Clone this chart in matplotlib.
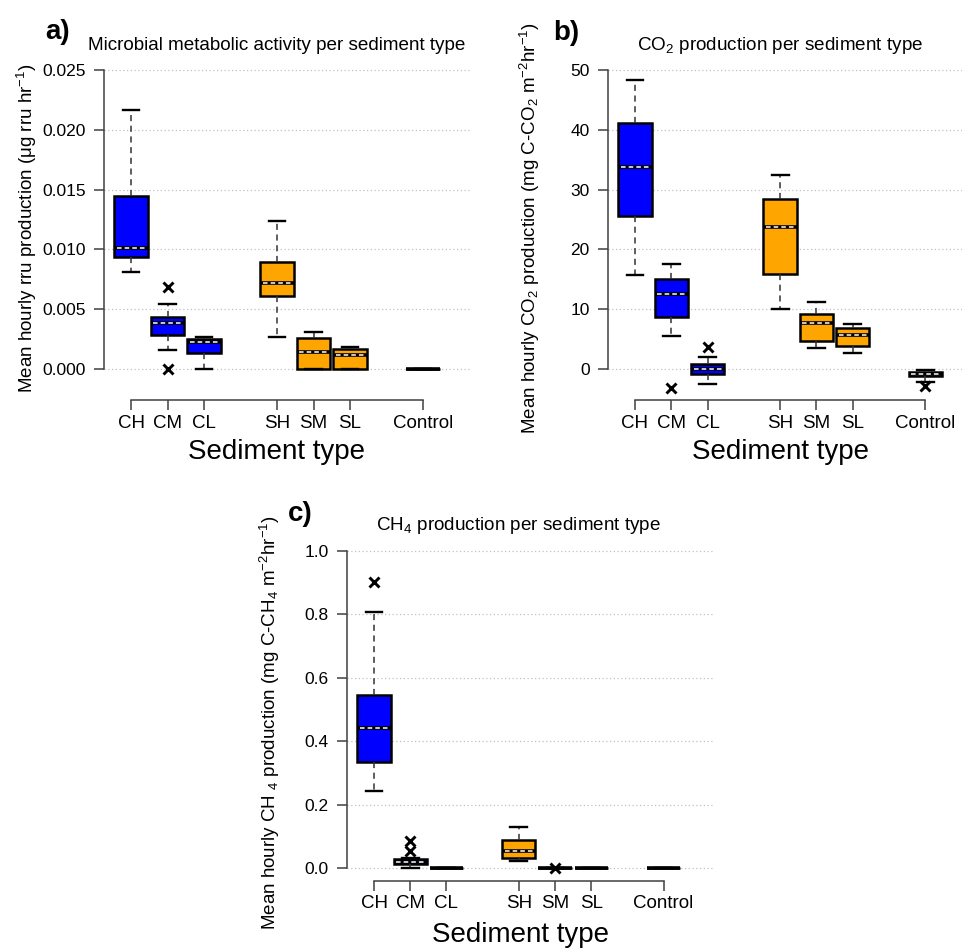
import matplotlib
matplotlib.use('Agg')
import matplotlib.pyplot as plt
import numpy as np

plt.rcParams['font.family'] = ['Liberation Sans', 'DejaVu Sans']
plt.rcParams['mathtext.fontset'] = 'custom'
plt.rcParams['mathtext.rm'] = 'Liberation Sans'
plt.rcParams['mathtext.it'] = 'Liberation Sans:italic'
plt.rcParams['mathtext.bf'] = 'Liberation Sans:bold'

# ---------------- data ----------------
categories = ['CH', 'CM', 'CL', 'SH', 'SM', 'SL', 'Control']
box_colors = ['#0000FF', '#0000FF', '#0000FF', '#FFA500', '#FFA500', '#FFA500', '#FFFFFF']
positions = [1, 2, 3, 5, 6, 7, 9]

# a) microbial metabolic activity
a_whislo = [0.0081, 0.0016, 0.0000, 0.0027, 0.0000, 0.0000, 0.0]
a_q1 = [0.00935, 0.00284, 0.00134, 0.00613, 0.00003, 0.00003, 0.0]
a_med = [0.0101, 0.00382, 0.00223, 0.00719, 0.00139, 0.00114, 0.0]
a_q3 = [0.01443, 0.00432, 0.00248, 0.00897, 0.00262, 0.00167, 0.0]
a_whishi = [0.02163, 0.00543, 0.00265, 0.01237, 0.00312, 0.00181, 0.0]
a_fliers = [[], [0.00688, 0.00003], [], [], [], [], []]
a_yticks = [0.0, 0.005, 0.010, 0.015, 0.020, 0.025]

# b) CO2 production
b_whislo = [15.8, 5.6, -2.5, 10.0, 3.5, 2.6, -2.1]
b_q1 = [25.6, 8.7, -0.9, 15.9, 4.7, 3.85, -1.17]
b_med = [33.7, 12.5, 0.06, 23.8, 7.64, 5.64, -0.89]
b_q3 = [41.2, 15.0, 0.78, 28.4, 9.2, 6.9, -0.5]
b_whishi = [48.3, 17.6, 2.06, 32.4, 11.25, 7.58, -0.22]
b_fliers = [[], [-3.1], [3.73], [], [], [], [-2.84]]
b_yticks = [0, 10, 20, 30, 40, 50]

# c) CH4 production
c_whislo = [0.243, 0.0, 0.0, 0.023, 0.0, 0.0, 0.0]
c_q1 = [0.334, 0.014, 0.0, 0.034, 0.0, 0.0, 0.0]
c_med = [0.442, 0.021, 0.0, 0.055, 0.0, 0.0, 0.0]
c_q3 = [0.546, 0.028, 0.0, 0.088, 0.0, 0.0, 0.0]
c_whishi = [0.808, 0.031, 0.0, 0.131, 0.0, 0.0, 0.0]
c_fliers = [[0.902], [0.086, 0.055], [], [], [0.002], [], []]
c_yticks = [0.0, 0.2, 0.4, 0.6, 0.8, 1.0]

# ---------------- figure ----------------
W, H = 963, 949
fig = plt.figure(figsize=(W / 100, H / 100), dpi=100)


def px_axes(x0, y0, x1, y1):
    return fig.add_axes([x0 / W, 1 - y1 / H, (x1 - x0) / W, (y1 - y0) / H])


def ftext(x, y, s, **kw):
    fig.text(x / W, 1 - y / H, s, **kw)


BOXW = 0.92
AXC = '#404040'


def panel(ax, whislo, q1, med, q3, whishi, fliers, yticks, fmt, xlim, ylim):
    stats = []
    for i in range(len(categories)):
        stats.append(dict(whislo=whislo[i], q1=q1[i], med=med[i], q3=q3[i],
                          whishi=whishi[i], fliers=fliers[i], label=categories[i]))
    ax.yaxis.grid(True, linestyle=(0, (1, 2)), color='#c0c0c0', linewidth=0.9)
    ax.set_axisbelow(True)
    bp = ax.bxp(stats, positions=positions, widths=BOXW, capwidths=BOXW * 0.5,
                patch_artist=True,
                boxprops=dict(linewidth=1.8, edgecolor='black'),
                whiskerprops=dict(linestyle=(0, (4, 3)), linewidth=1.1, color='#333333'),
                capprops=dict(linewidth=1.7, color='black'),
                medianprops=dict(color='black', linewidth=2.6),
                flierprops=dict(marker='x', markersize=6.5, markeredgecolor='black',
                                markeredgewidth=2.1, linestyle='none'))
    for patch, col in zip(bp['boxes'], box_colors):
        patch.set_facecolor(col)
    pos = np.array(positions, dtype=float)
    med_a = np.array(med, dtype=float)
    open_box = (np.array(q3, dtype=float) - np.array(q1, dtype=float)) > 0
    ax.hlines(med_a[open_box], pos[open_box] - BOXW * 0.42, pos[open_box] + BOXW * 0.42,
              colors='white', linestyles=(0, (3, 2)), linewidth=1.1, zorder=5)
    ax.set_xlim(*xlim)
    ax.set_ylim(*ylim)
    ax.set_xticks(positions)
    ax.set_xticklabels(categories, fontsize=13.5)
    ax.set_yticks(yticks)
    ax.set_yticklabels([fmt.format(v) for v in yticks], fontsize=12.5)
    for s in ['top', 'right']:
        ax.spines[s].set_visible(False)
    ax.spines['left'].set_bounds(yticks[0], yticks[-1])
    ax.spines['bottom'].set_bounds(positions[0], positions[-1])
    for s in ['left', 'bottom']:
        ax.spines[s].set_color(AXC)
        ax.spines[s].set_linewidth(1.1)
    ax.tick_params(axis='y', direction='out', length=7, width=1.1, color=AXC, pad=6)
    ax.tick_params(axis='x', direction='out', length=7.5, width=1.1, color=AXC, pad=3)


# panel a
axa = px_axes(104, 58, 472, 400)
panel(axa, a_whislo, a_q1, a_med, a_q3, a_whishi, a_fliers, a_yticks, '{:.3f}',
      (0.26, 10.34), (-0.002592, 0.026003))
# panel b
axb = px_axes(607.7, 58, 962, 400)
panel(axb, b_whislo, b_q1, b_med, b_q3, b_whishi, b_fliers, b_yticks, '{:.0f}',
      (0.248, 10.01), (-5.18, 52.0))
# panel c
axc = px_axes(347, 540, 715, 880.7)
panel(axc, c_whislo, c_q1, c_med, c_q3, c_whishi, c_fliers, c_yticks, '{:.1f}',
      (0.254, 10.42), (-0.039, 1.034))

# titles
ftext(277, 45, 'Microbial metabolic activity per sediment type', fontsize=13.6,
      ha='center', va='center')
ftext(780, 45, 'CO$_2$ production per sediment type', fontsize=13.6,
      ha='center', va='center')
ftext(519, 525, 'CH$_4$ production per sediment type', fontsize=13.6,
      ha='center', va='center')

# panel letters
ftext(45, 32, 'a)', fontsize=20, fontweight='bold', ha='left', va='center')
ftext(553, 33, 'b)', fontsize=20, fontweight='bold', ha='left', va='center')
ftext(288, 514, 'c)', fontsize=20, fontweight='bold', ha='left', va='center')

# x labels
for (x, y) in [(277, 452), (780, 452), (520, 935)]:
    ftext(x, y, 'Sediment type', fontsize=20, ha='center', va='center')

# y labels
ftext(27, 228, 'Mean hourly rru production (\u03bcg rru hr$^{-1}$)', fontsize=13.5,
      rotation=90, ha='center', va='center')
ftext(530, 228, 'Mean hourly CO$_2$ production (mg C-CO$_2$ m$^{-2}$hr$^{-1}$)',
      fontsize=13.5, rotation=90, ha='center', va='center')
ftext(270, 723, 'Mean hourly CH $_4$ production (mg C-CH$_4$ m$^{-2}$hr$^{-1}$)',
      fontsize=13.5, rotation=90, ha='center', va='center')

fig.savefig('out.png', dpi=100)
